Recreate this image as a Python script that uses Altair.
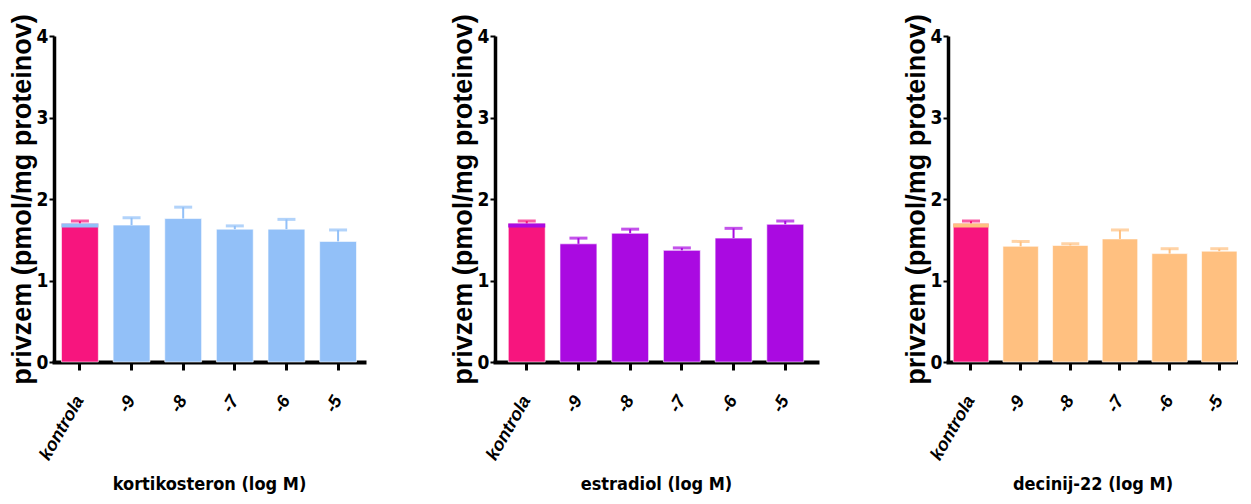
import altair as alt
import pandas as pd

categories = ["kontrola", "-9", "-8", "-7", "-6", "-5"]

kort_mean = [1.70, 1.68, 1.76, 1.63, 1.63, 1.48]
kort_upper = [1.73, 1.77, 1.90, 1.67, 1.75, 1.62]

estr_mean = [1.70, 1.45, 1.58, 1.37, 1.52, 1.69]
estr_upper = [1.73, 1.52, 1.63, 1.40, 1.64, 1.73]

dec_mean = [1.70, 1.42, 1.43, 1.51, 1.33, 1.36]
dec_upper = [1.73, 1.48, 1.45, 1.62, 1.39, 1.39]

control_band_low = 1.65

titles = ["kortikosteron (log M)", "estradiol (log M)", "decinij-22 (log M)"]
series_colors = ["#92C0F8", "#AA0AE1", "#FFC080"]
control_color = "#F7157E"

NARROW = "DejaVu Sans Condensed, Liberation Sans, sans-serif"
WIDE = "Liberation Sans, Arial, sans-serif"


def panel(means, uppers, color, xtitle, width, pad_outer, align):
    df = pd.DataFrame({
        "cat": categories,
        "mean": means,
        "upper": uppers,
        "fill": [control_color] + [color] * (len(categories) - 1),
        "series": [color] * len(categories),
        "band_low": [control_band_low] + [None] * (len(categories) - 1),
    })
    x = alt.X(
        "cat:N",
        sort=categories,
        scale=alt.Scale(paddingInner=0.286, paddingOuter=pad_outer, align=align),
        axis=alt.Axis(
            title=xtitle,
            labelAngle=-60,
            labelFont=WIDE,
            labelFontSize=18,
            labelFontWeight="bold",
            labelFontStyle="italic",
            labelColor="black",
            labelPadding=27,
            tickSize=8,
            tickWidth=3,
            tickColor="black",
            domainWidth=4,
            domainColor="black",
            domainCap="square",
            titleFont=NARROW,
            titleFontSize=18,
            titleFontWeight="bold",
            titleColor="black",
            titlePadding=13,
        ),
    )
    y_axis = alt.Axis(
        title="privzem (pmol/mg proteinov)",
        values=[0, 1, 2, 3, 4],
        format="d",
        labelFont=NARROW,
        labelFontSize=19,
        labelFontWeight="bold",
        labelColor="black",
        labelPadding=1,
        tickSize=5,
        tickWidth=2,
        tickColor="black",
        domainWidth=3.5,
        domainColor="black",
        grid=False,
        titleFont=WIDE,
        titleFontSize=27,
        titleFontWeight="bold",
        titleColor="black",
        titlePadding=0,
    )
    y = alt.Y("mean:Q", scale=alt.Scale(domain=[0, 4], nice=False), axis=y_axis)
    base = alt.Chart(df)
    bars = base.mark_bar(stroke="white", strokeWidth=1, strokeOpacity=0.6).encode(
        x=x, y=y, color=alt.Color("fill:N", scale=None)
    )
    stem = base.mark_rule(strokeWidth=2).encode(
        x=alt.X("cat:N", sort=categories),
        y="mean:Q",
        y2="upper:Q",
        color=alt.Color("fill:N", scale=None),
    )
    cap = base.mark_tick(thickness=3, size=18, orient="horizontal").encode(
        x=alt.X("cat:N", sort=categories),
        y="upper:Q",
        color=alt.Color("fill:N", scale=None),
    )
    band = base.transform_filter("datum.band_low != null").mark_bar().encode(
        x=alt.X("cat:N", sort=categories),
        y="band_low:Q",
        y2="mean:Q",
        color=alt.Color("series:N", scale=None),
    )
    return alt.layer(bars, stem, cap, band).properties(width=width, height=326)


p1 = panel(kort_mean, kort_upper, series_colors[0], titles[0], 310, 0.145, 0.5)
p2 = panel(estr_mean, estr_upper, series_colors[1], titles[1], 322, 0.257, 0.5)
p3 = panel(dec_mean, dec_upper, series_colors[2], titles[2], 289, 0.053, 1.0)

chart = alt.hconcat(p1, p2, p3, spacing=85).properties(
    padding={"left": 0, "top": 5, "right": 0, "bottom": 0},
    background="white",
).configure_view(stroke=None, strokeWidth=0)

chart.save("out.html", embed_options={"renderer": "svg", "actions": False})
